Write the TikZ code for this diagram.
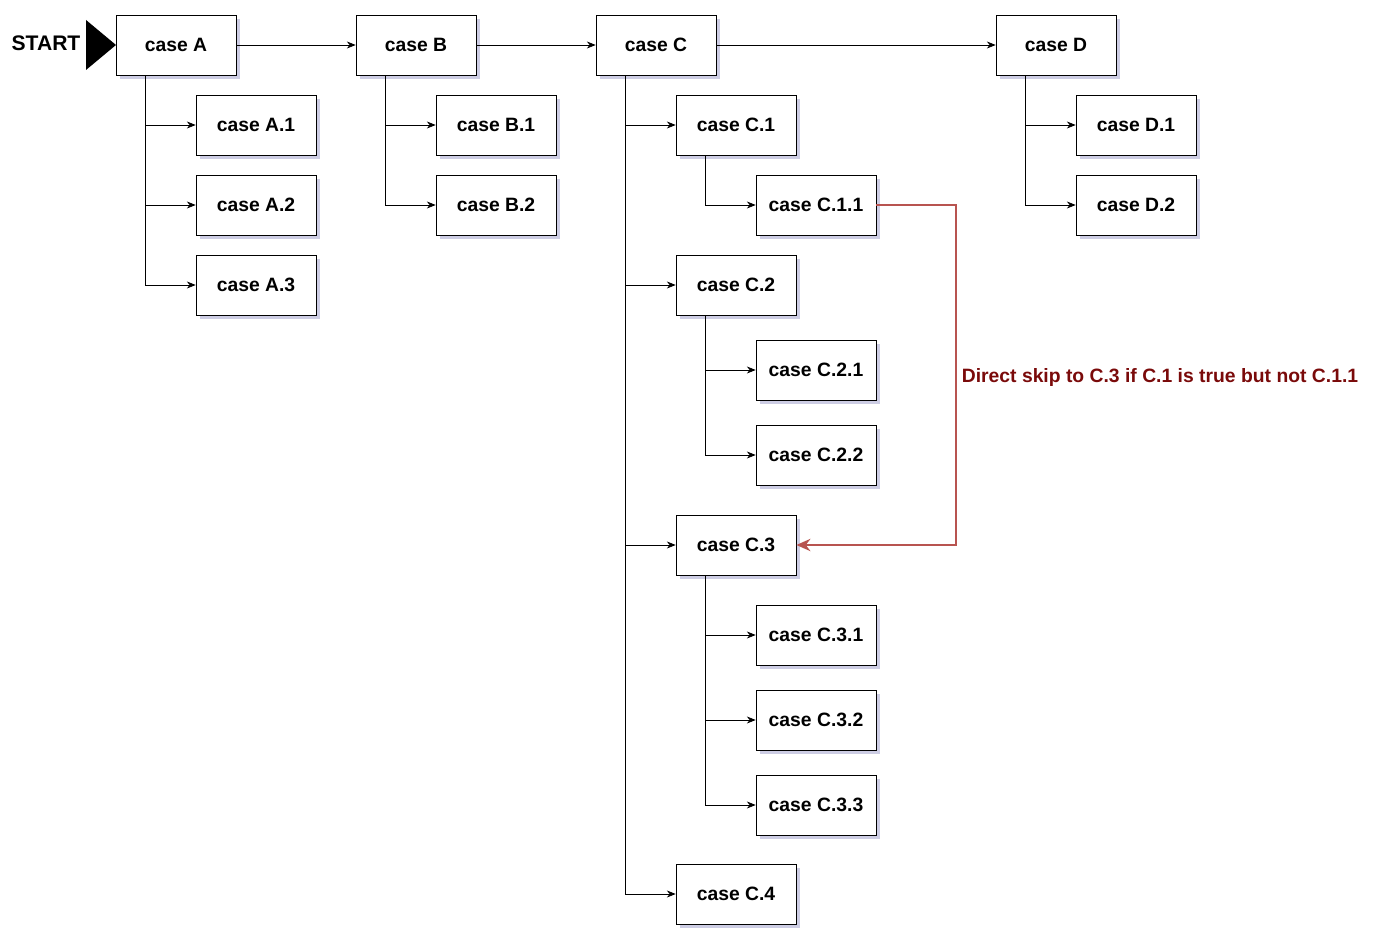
\documentclass[tikz,border=0pt]{standalone}
\usepackage{fontspec}
\setmainfont{Liberation Sans}
\usetikzlibrary{arrows.meta,shadows}
\definecolor{skipred}{HTML}{B85450}
\definecolor{skiptext}{HTML}{7A0A0A}

\begin{document}
\begin{tikzpicture}
    [x=0.02cm,y=-0.02cm,
     every node/.style={font=\bfseries\fontsize{11}{13}\selectfont},
     box/.style={draw, fill=white, minimum width=120*0.02cm, minimum height=60*0.02cm, inner sep=0pt,
       drop shadow={shadow xshift=2pt, shadow yshift=-2pt, opacity=0.3, fill=gray!70!blue}},
     link/.style={-{Stealth[length=5pt,width=4pt]}, thin}]
  \useasboundingbox (0,0) rectangle (1383,949);
  \node[font=\bfseries\fontsize{12}{14}\selectfont] (start) at (46,43) {START};
  \fill (86,20) coordinate (t1) -- (116,45) coordinate (t2) -- (86,70) coordinate (t3) -- cycle;

  \node[box] (a) at (176,45) {case A};
  \node[box] (b) at (416,45) {case B};
  \node[box] (c) at (656,45) {case C};
  \node[box] (d) at (1056,45) {case D};
  \node[box] (a1) at (256,125) {case A.1};
  \node[box] (a2) at (256,205) {case A.2};
  \node[box] (a3) at (256,285) {case A.3};
  \node[box] (b1) at (496,125) {case B.1};
  \node[box] (b2) at (496,205) {case B.2};
  \node[box] (c1) at (736,125) {case C.1};
  \node[box] (c11) at (816,205) {case C.1.1};
  \node[box] (c2) at (736,285) {case C.2};
  \node[box] (c21) at (816,370) {case C.2.1};
  \node[box] (c22) at (816,455) {case C.2.2};
  \node[box] (c3) at (736,545) {case C.3};
  \node[box] (c31) at (816,635) {case C.3.1};
  \node[box] (c32) at (816,720) {case C.3.2};
  \node[box] (c33) at (816,805) {case C.3.3};
  \node[box] (c4) at (736,894) {case C.4};
  \node[box] (d1) at (1136,125) {case D.1};
  \node[box] (d2) at (1136,205) {case D.2};
  \node[text=skiptext] (skip) at (1160,378) {Direct skip to C.3 if C.1 is true but not C.1.1};

  \foreach \from/\to in {a/b, b/c, c/d}
    \draw[link] (\from) -- (\to);

  \foreach \from/\to in {a/a1, a/a2, a/a3, b/b1, b/b2, c/c1, c/c2, c/c3, c/c4, c1/c11,
      c2/c21, c2/c22, c3/c31, c3/c32, c3/c33, d/d1, d/d2}
    \draw[link] ([xshift=30*0.02cm]\from.south west) |- (\to.west);

  \draw[skipred, line width=1.2pt, -{Stealth[length=8pt,width=7pt]}] (c11.east) -| (956,375) |- (c3.east);
\end{tikzpicture}
\end{document}
